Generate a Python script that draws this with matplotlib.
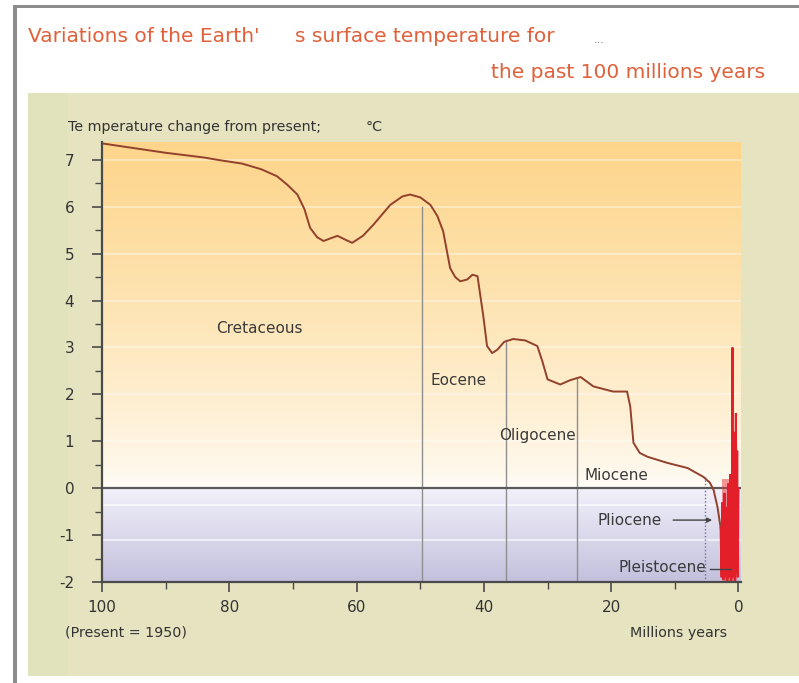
import numpy as np
import matplotlib
matplotlib.use("Agg")
import matplotlib.pyplot as plt
from matplotlib.colors import to_rgb

plt.rcParams['font.family'] = ['DejaVu Sans']
plt.rcParams['axes.unicode_minus'] = False

# ---------------- data ----------------
ages = [100, 90, 84.0, 81.4, 78.0, 75, 72.5, 70.9, 69.3, 68.2, 67.3, 66.2, 65.2, 64.0, 63.0,
        61.8, 60.7, 59.0, 57.4, 54.7, 52.8, 51.6, 50.0, 48.4, 47.3, 46.4, 45.3, 44.5, 43.7,
        42.6, 41.8, 41.0, 40.1, 39.5, 38.7, 37.9, 36.8, 35.4, 33.5, 31.6, 30.8, 30.0, 28.0,
        26.5, 24.8, 22.8, 19.7, 17.5, 17.0, 16.5, 15.5, 14.3, 11.2, 8.0, 5.5, 4.5,
        3.9, 3.3, 2.8]
temps = [7.35, 7.15, 7.05, 6.99, 6.92, 6.8, 6.65, 6.47, 6.26, 5.95, 5.55, 5.35, 5.27, 5.33,
         5.38, 5.30, 5.23, 5.38, 5.61, 6.04, 6.22, 6.26, 6.20, 6.04, 5.80, 5.48, 4.69, 4.50,
         4.41, 4.45, 4.55, 4.52, 3.68, 3.03, 2.88, 2.95, 3.12, 3.18, 3.15, 3.03, 2.70, 2.32,
         2.21, 2.30, 2.37, 2.17, 2.06, 2.06, 1.74, 0.97, 0.75, 0.67, 0.54, 0.43, 0.24, 0.12,
         -0.04, -0.4, -0.84]

pleist_t = [2.8, 2.65, 2.5, 2.35, 2.2, 2.05, 1.9, 1.75, 1.6, 1.45, 1.3, 1.15, 1.0,
            0.94, 0.85, 0.7, 0.55, 0.4, 0.3, 0.2, 0.12, 0.0]
pleist_v = [-0.84, -1.9, -0.3, -1.95, -0.1, -1.9, -0.4, -2.0, 0.1, -1.9, 0.3, -2.0, 0.6,
            3.0, -1.9, 1.2, -2.0, 1.6, -1.8, 0.8, -1.9, 0.0]

epoch_names = ["Cretaceous", "Eocene", "Oligocene", "Miocene", "Pliocene", "Pleistocene"]
epoch_label_x = [75.3, 44.0, 31.6, 19.2, 17.1, 11.9]
epoch_label_y = [3.4, 2.3, 1.13, 0.28, -0.68, -1.7]
boundary_x = [49.7, 36.5, 25.3]
boundary_top = [6.0, 3.15, 2.35]
dotted_x = [5.3, 2.6]
dotted_top = [0.24, -0.75]

yticks = [7, 6, 5, 4, 3, 2, 1, 0, -1, -2]
xticks = [100, 80, 60, 40, 20, 0]

# ---------------- figure ----------------
fig = plt.figure(figsize=(7.99, 6.83), dpi=100)
fig.patch.set_facecolor('white')

frame = fig.add_axes([0, 0, 1, 1], zorder=-10)
frame.set_xlim(0, 799); frame.set_ylim(683, 0); frame.axis('off')
frame.add_patch(plt.Rectangle((14, 5), 785, 3, color='#8c8c8c', lw=0))
frame.add_patch(plt.Rectangle((13, 5), 4, 678, color='#8c8c8c', lw=0))
frame.add_patch(plt.Rectangle((28, 93), 771, 583, color='#e6e3c0', lw=0))
frame.add_patch(plt.Rectangle((28, 93), 40, 583, color='#e0e3bb', lw=0))

title_color = '#e0603a'
fig.text(28/799, 1-36/683, "Variations of the Earth'", color=title_color,
         fontsize=14.5, ha='left', va='center')
fig.text(295/799, 1-36/683, "s surface temperature for", color=title_color,
         fontsize=14.5, ha='left', va='center')
fig.text(594/799, 1-40/683, "...", color='#7a6e60', fontsize=8, ha='left', va='center')
fig.text(765/799, 1-72/683, "the past 100 millions years", color=title_color,
         fontsize=14.5, ha='right', va='center')

ax = fig.add_axes([102/799, 1-582/683, (741-102)/799, (582-142)/683])
ymin, ymax = -2, 7.38
xmin, xmax = 100, -0.4
ax.set_xlim(xmin, xmax)
ax.set_ylim(ymin, ymax)

ys = np.linspace(ymin, ymax, 600)
orange = np.array(to_rgb('#fdd58a'))
white = np.array(to_rgb('#fffdf8'))
lav_top = np.array(to_rgb('#f2f1fa'))
lav_bot = np.array(to_rgb('#c3c0dd'))
img = np.zeros((len(ys), 2, 3))
for i, yv in enumerate(ys):
    if yv >= 0:
        t = (yv / ymax) ** 0.75
        c = white * (1 - t) + orange * t
    else:
        t = (-yv / 2.0)
        c = lav_top * (1 - t) + lav_bot * t
    img[i, :, :] = c
ax.imshow(img, extent=[xmin, xmax, ymin, ymax], origin='lower', aspect='auto', zorder=0)
for yv in [1, 2, 3, 4, 5, 6, 7]:
    ax.axhline(yv, color='white', lw=1.2, alpha=0.45, zorder=1)
for yv in [-0.35, -1.1]:
    ax.axhline(yv, color='white', lw=1.5, alpha=0.6, zorder=1)

ax.axhline(0, color='#5a5a5a', lw=1.6, zorder=3)

for bx, bt in zip(boundary_x, boundary_top):
    ax.plot([bx, bx], [ymin, bt], color='#8f8f8f', lw=1.0, zorder=2)
for bx, bt in zip(dotted_x, dotted_top):
    ax.plot([bx, bx], [ymin, bt], color='#6d6fa8', lw=1.0, ls=(0, (1, 1.5)), zorder=2)

ax.plot(ages, temps, color='#93402c', lw=1.4, zorder=4, solid_joinstyle='round')
ax.plot(pleist_t, pleist_v, color='#e3202a', lw=1.5, zorder=5, solid_joinstyle='miter')
ax.fill_betweenx([-2, 0.2], 2.6, 0.3, color='#e8323a', alpha=0.5, lw=0, zorder=4)

for name, lx, ly in zip(epoch_names, epoch_label_x, epoch_label_y):
    ax.text(lx, ly, name, fontsize=11, color='#3a3a3a', ha='center', va='center', zorder=6)
ax.annotate('', xy=(3.7, -0.68), xytext=(10.7, -0.68),
            arrowprops=dict(arrowstyle='-|>', color='#444444', lw=1.0, mutation_scale=7), zorder=6)
ax.plot([4.5, 1.2], [-1.72, -1.72], color='#444444', lw=1.0, zorder=6)

for s in ['top', 'right']:
    ax.spines[s].set_visible(False)
for s in ['left', 'bottom']:
    ax.spines[s].set_color('#4a4a4a')
    ax.spines[s].set_linewidth(1.6)
    ax.spines[s].set_zorder(7)
ax.set_yticks(yticks)
ax.set_yticks(np.arange(-2, 7.01, 0.5), minor=True)
ax.set_xticks(xticks)
ax.set_xticks(np.arange(0, 101, 10), minor=True)
ax.tick_params(axis='both', which='major', direction='out', length=7, width=1.2,
               color='#4a4a4a', labelcolor='#333333', labelsize=11)
ax.tick_params(axis='both', which='minor', direction='out', length=5, width=1.0, color='#4a4a4a')
ax.tick_params(axis='y', pad=13)
ax.tick_params(axis='x', pad=6)

fig.text(68/799, 1-127/683, "Te mperature change from present;",
         fontsize=10.3, color='#333333', ha='left', va='center')
fig.text(366/799, 1-127/683, "\u00b0C", fontsize=10.3, color='#333333', ha='left', va='center')
fig.text(65/799, 1-633/683, "(Present = 1950)", fontsize=10.3, color='#333333', ha='left', va='center')
fig.text(727/799, 1-633/683, "Millions years", fontsize=10.3, color='#333333', ha='right', va='center')

fig.savefig('out.png', dpi=100, facecolor=fig.get_facecolor())
